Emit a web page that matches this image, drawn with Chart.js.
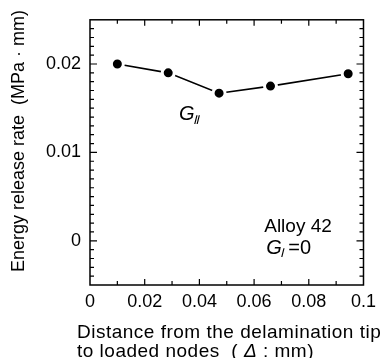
<!DOCTYPE html>
<html>
<head>
<meta charset="utf-8">
<script src="https://cdn.jsdelivr.net/npm/chart.js@4/dist/chart.umd.min.js"></script>
<style>
    html, body { margin: 0; padding: 0; background: #fff; }
    #wrap { width: 382px; height: 358px; }
</style>
</head>
<body>
<div id="wrap"><canvas id="chart" width="382" height="358"></canvas></div>
<script>
// Distance from the delamination tip (mm)
const distance = [0.01, 0.0286, 0.0472, 0.066, 0.0944];
// Mode II energy release rate (MPa mm)
const gTwo = [0.0200, 0.0190, 0.0167, 0.0175, 0.0189];
const xTicks = [0, 0.02, 0.04, 0.06, 0.08, 0.1];
const yTicks = [0, 0.01, 0.02];

const font = 'Liberation Sans, Arial, sans-serif';
const canvas = document.getElementById('chart');

//Minor tick positions, drawn inward like the reference
function minorTicks(from, to, step) {
    var list = [];
    for (var i = Math.round(from / step); i <= Math.round(to / step); i++) {
        list.push(i * step);
    }
    return list;
}

const frame = {
    id: 'frame',
    afterDraw(chart) {
        const ctx = chart.ctx;
        const a = chart.chartArea;
        const sx = chart.scales.x;
        const sy = chart.scales.y;
        ctx.save();
        ctx.strokeStyle = '#000';
        ctx.lineWidth = 1.5;
        ctx.strokeRect(a.left, a.top, a.right - a.left, a.bottom - a.top);

        ctx.lineWidth = 1.2;
        ctx.beginPath();
        minorTicks(0.01, 0.09, 0.01).forEach(v => {
            const px = sx.getPixelForValue(v);
            const len = xTicks.some(t => Math.abs(t - v) < 1e-9) ? 6 : 4;
            ctx.moveTo(px, a.bottom); ctx.lineTo(px, a.bottom - len);
            ctx.moveTo(px, a.top); ctx.lineTo(px, a.top + len);
        });
        minorTicks(-0.004, 0.024, 0.001).forEach(v => {
            const py = sy.getPixelForValue(v);
            const len = yTicks.some(t => Math.abs(t - v) < 1e-9) ? 7 : 4;
            ctx.moveTo(a.left, py); ctx.lineTo(a.left + len, py);
            ctx.moveTo(a.right, py); ctx.lineTo(a.right - len, py);
        });
        ctx.stroke();

        ctx.fillStyle = '#000';
        ctx.textBaseline = 'alphabetic';
        ctx.textAlign = 'left';

        //G_II label under the curve
        var gx = sx.getPixelForValue(0.0325);
        var gy = sy.getPixelForValue(0.0137);
        ctx.font = 'italic 20px ' + font;
        ctx.fillText('G', gx, gy);
        ctx.font = 'italic 12px "Liberation Serif", serif';
        ctx.fillText('\u2161', gx + 14, gy + 4);

        //Alloy note
        var ax = sx.getPixelForValue(0.0637);
        ctx.font = '19px ' + font;
        ctx.fillText('Alloy 42', ax, sy.getPixelForValue(0.001));
        var by = sy.getPixelForValue(-0.0015);
        ctx.font = 'italic 20px ' + font;
        ctx.fillText('G', ax + 2, by);
        ctx.font = 'italic 12px "Liberation Serif", serif';
        ctx.fillText('\u2160', ax + 16, by + 3);
        ctx.font = '20px ' + font;
        ctx.fillText('=0', ax + 24, by);

        //y axis title, rotated
        ctx.save();
        ctx.translate(19, 141);
        ctx.rotate(-Math.PI / 2);
        ctx.textAlign = 'center';
        ctx.textBaseline = 'middle';
        ctx.font = '18px ' + font;
        ctx.fillText('Energy release rate  (MPa \u00b7 mm)', 0, 0);
        ctx.restore();

        //x axis title, two lines, left aligned
        var tx = a.left - 13;
        ctx.font = '19px ' + font;
        ctx.letterSpacing = '0.5px';
        ctx.fillText('Distance from the delamination tip', tx, 338);
        var line2 = 'to loaded nodes  ( ';
        ctx.fillText(line2, tx, 357);
        var w = ctx.measureText(line2).width;
        ctx.font = 'italic 19px ' + font;
        ctx.fillText('\u0394', tx + w, 357);
        w += ctx.measureText('\u0394').width;
        ctx.font = '19px ' + font;
        ctx.fillText(' : mm)', tx + w, 357);
        ctx.restore();
    }
};

new Chart(canvas, {
    type: 'scatter',
    data: {
        datasets: [{
            data: distance.map((d, i) => ({x: d, y: gTwo[i]})),
            showLine: true,
            borderColor: '#000',
            borderWidth: 1.6,
            pointRadius: 6,
            pointBackgroundColor: '#000',
            pointBorderColor: '#fff',
            pointBorderWidth: 3
        }]
    },
    options: {
        responsive: false,
        animation: false,
        layout: {
            autoPadding: false,
            padding: {top: 12, right: 12, left: 0, bottom: 0}
        },
        plugins: {
            legend: {display: false},
            tooltip: {enabled: false}
        },
        scales: {
            x: {
                type: 'linear',
                min: 0,
                max: 0.1,
                afterBuildTicks: s => { s.ticks = xTicks.map(v => ({value: v})); },
                afterFit: s => { s.height = 73; },
                grid: {display: false, drawTicks: false},
                border: {display: false},
                ticks: {
                    color: '#000',
                    font: {family: font, size: 18},
                    padding: 6,
                    maxRotation: 0,
                    callback: v => String(v)
                }
            },
            y: {
                min: -0.005,
                max: 0.025,
                afterBuildTicks: s => { s.ticks = yTicks.map(v => ({value: v})); },
                afterFit: s => { s.width = 90; },
                grid: {display: false, drawTicks: false},
                border: {display: false},
                ticks: {
                    color: '#000',
                    font: {family: font, size: 18},
                    padding: 9,
                    callback: v => String(v)
                }
            }
        }
    },
    plugins: [frame]
});
</script>
</body>
</html>
